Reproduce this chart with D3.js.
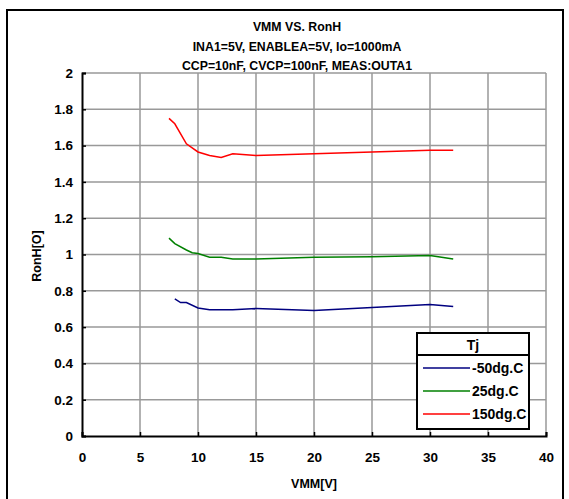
<!DOCTYPE html>
<html><head><meta charset="utf-8">
<script src="https://cdn.jsdelivr.net/npm/d3@7"></script>
<style>body{margin:0;background:#fff}svg text{font-family:"Liberation Sans",Arial,sans-serif;font-weight:bold}</style>
</head><body><svg id="c" width="569" height="499"></svg>
<script>
const titleLines = ["VMM VS. RonH", "INA1=5V, ENABLEA=5V, Io=1000mA", "CCP=10nF, CVCP=100nF, MEAS:OUTA1"];
const xTicks = [0,5,10,15,20,25,30,35,40];
const yTicks = [0,0.2,0.4,0.6,0.8,1,1.2,1.4,1.6,1.8,2];
const seriesNames = ["-50dg.C","25dg.C","150dg.C"];
const seriesColors = ["#000080","#008000","#ff0000"];
const blue = [[8,0.755],[8.5,0.735],[9,0.735],[10,0.705],[11,0.695],[13,0.695],[15,0.703],[20,0.692],[25,0.708],[30,0.725],[32,0.713]];
const green = [[7.5,1.09],[8,1.06],[9,1.025],[9.5,1.01],[10,1.005],[11,0.985],[12,0.985],[13,0.975],[15,0.975],[20,0.985],[25,0.988],[30,0.995],[32,0.975]];
const red = [[7.5,1.75],[8,1.72],[9,1.61],[10,1.565],[11,1.545],[12,1.535],[13,1.555],[15,1.545],[20,1.555],[25,1.565],[30,1.575],[32,1.575]];
const series = [blue, green, red];

const svg = d3.select("#c");
const L=82,R=546,T=73,B=436;
const x = d3.scaleLinear().domain([0,40]).range([L,R]);
const y = d3.scaleLinear().domain([0,2]).range([B,T]);

svg.append("rect").attr("x",7).attr("y",10).attr("width",556).attr("height",520)
  .attr("fill","none").attr("stroke","#000").attr("stroke-width",2);

titleLines.forEach((t,i)=>svg.append("text").attr("x",297).attr("y",31+i*19.5)
  .attr("text-anchor","middle").attr("font-size",12.3).text(t));

// grid
const g = svg.append("g");
g.selectAll(".gx").data(xTicks.slice(1)).join("line").attr("x1",d=>x(d)).attr("x2",d=>x(d))
  .attr("y1",T).attr("y2",B).attr("stroke","#999").attr("stroke-width",1.5);
g.selectAll(".gy").data(yTicks.slice(1)).join("line").attr("y1",d=>y(d)).attr("y2",d=>y(d))
  .attr("x1",L).attr("x2",R).attr("stroke","#999").attr("stroke-width",1.5);

// axes
const xa = svg.append("g").attr("transform",`translate(0,${B})`)
  .call(d3.axisBottom(x).tickValues(xTicks).tickSize(-4).tickPadding(16).tickFormat(d3.format("d")));
const ya = svg.append("g").attr("transform",`translate(${L},0)`)
  .call(d3.axisLeft(y).tickValues(yTicks).tickSize(-4).tickPadding(9).tickFormat(d=>d===0||d===1||d===2?String(d):d3.format(".1f")(d)));
[xa,ya].forEach(a=>{a.select(".domain").attr("stroke","#000").attr("stroke-width",2);
  a.selectAll(".tick line").attr("stroke","#000").attr("stroke-width",1.5);
  a.selectAll("text").attr("font-size",13.5).attr("fill","#000").attr("font-family","Liberation Sans,Arial,sans-serif").attr("font-weight","bold");});

svg.append("text").attr("x",314).attr("y",488).attr("text-anchor","middle").attr("font-size",12.5).text("VMM[V]");
svg.append("text").attr("transform","translate(41,256) rotate(-90)").attr("text-anchor","middle").attr("font-size",12.5).text("RonH[O]");

// lines
const line = d3.line().x(d=>x(d[0])).y(d=>y(d[1]));
series.forEach((s,i)=>svg.append("path").datum(s).attr("d",line).attr("fill","none")
  .attr("stroke",seriesColors[i]).attr("stroke-width",1.5));

// legend
const lg = svg.append("g");
lg.append("rect").attr("x",417).attr("y",333).attr("width",112).attr("height",96)
  .attr("fill","#fff").attr("stroke","none");
lg.append("text").attr("x",473).attr("y",350).attr("text-anchor","middle").attr("font-size",14).text("Tj");
seriesNames.forEach((n,i)=>{
  const yy = 368 + i*23;
  lg.append("line").attr("x1",423).attr("x2",470).attr("y1",yy).attr("y2",yy).attr("stroke",seriesColors[i]).attr("stroke-width",1.5);
  lg.append("text").attr("x",472).attr("y",yy+5).attr("font-size",14).text(n);
});
lg.append("rect").attr("x",417).attr("y",333).attr("width",112).attr("height",96)
  .attr("fill","none").attr("stroke","#000").attr("stroke-width",2);
lg.append("line").attr("x1",417).attr("x2",529).attr("y1",355).attr("y2",355).attr("stroke","#000").attr("stroke-width",2);
</script></body></html>
